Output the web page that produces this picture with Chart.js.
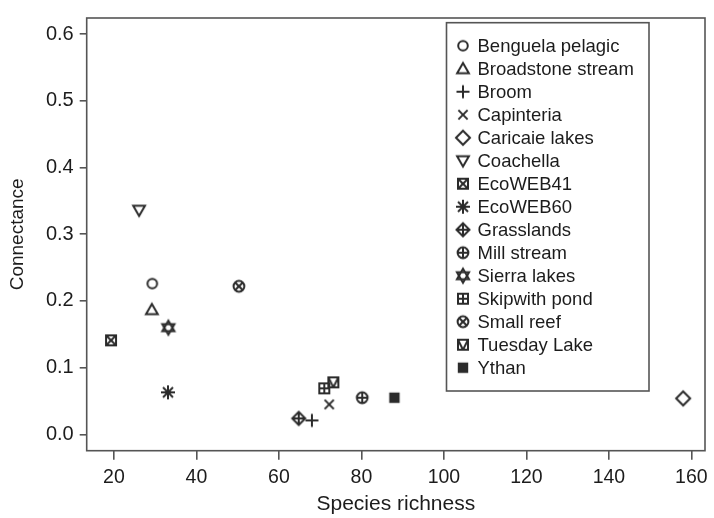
<!DOCTYPE html>
<html>
<head>
<meta charset="utf-8">
<script src="https://cdn.jsdelivr.net/npm/chart.js@4/dist/chart.umd.min.js"></script>
<style>
  body { margin: 0; background: #fff; }
  #wrap { width: 714px; height: 518px; }
</style>
</head>
<body>
<div id="wrap"><canvas id="chart" width="714" height="518"></canvas></div>
<script>
const networks = [
    'Benguela pelagic', 'Broadstone stream', 'Broom', 'Capinteria', 'Caricaie lakes',
    'Coachella', 'EcoWEB41', 'EcoWEB60', 'Grasslands', 'Mill stream',
    'Sierra lakes', 'Skipwith pond', 'Small reef', 'Tuesday Lake', 'Ythan'
];
const speciesRichness = [29.3, 29.2, 68.0, 72.2, 158.0, 26.1, 19.3, 33.1, 64.8, 80.2, 33.2, 71.0, 50.3, 73.2, 88.0];
const connectance = [0.226, 0.187, 0.021, 0.045, 0.054, 0.336, 0.141, 0.063, 0.024, 0.055, 0.160, 0.069, 0.222, 0.078, 0.055];
const markerShapes = [
    'circle', 'triUp', 'plus', 'cross', 'diamond',
    'triDown', 'squareX', 'asterisk', 'diamondPlus', 'circlePlus',
    'star', 'squarePlus', 'circleX', 'squareTri', 'squareFill'
];
const xTicks = [20, 40, 60, 80, 100, 120, 140, 160];
const yTicks = [0.0, 0.1, 0.2, 0.3, 0.4, 0.5, 0.6];

const INK = '#2b2b2b';
const AXIS = '#555';
const TEXT = '#1c1c1c';
const FONT = '"Liberation Sans", Arial, Helvetica, sans-serif';

// little canvases used as point styles (plot and legend)
function makeMarker(shape) {
    const c = document.createElement('canvas');
    c.width = 20;
    c.height = 20;
    const g = c.getContext('2d');
    g.strokeStyle = INK;
    g.fillStyle = INK;
    g.lineWidth = 2;
    g.translate(10, 10);

    const line = (x1, y1, x2, y2) => { g.beginPath(); g.moveTo(x1, y1); g.lineTo(x2, y2); g.stroke(); };
    const poly = pts => {
        g.beginPath();
        pts.forEach((p, i) => i ? g.lineTo(p[0], p[1]) : g.moveTo(p[0], p[1]));
        g.closePath();
        g.stroke();
    };
    const circle = r => { g.beginPath(); g.arc(0, 0, r, 0, Math.PI * 2); g.stroke(); };
    const tri = (r, dir) => poly([[0, -r * dir], [r * 0.866, r * 0.5 * dir], [-r * 0.866, r * 0.5 * dir]]);

    switch (shape) {
        case 'circle': circle(4.8); break;
        case 'triUp': g.translate(0, 1); tri(6.8, 1); break;
        case 'triDown': g.translate(0, -1); tri(6.8, -1); break;
        case 'plus': line(-6.5, 0, 6.5, 0); line(0, -6.5, 0, 6.5); break;
        case 'cross': line(-4.6, -4.6, 4.6, 4.6); line(-4.6, 4.6, 4.6, -4.6); break;
        case 'diamond': poly([[0, -7], [7, 0], [0, 7], [-7, 0]]); break;
        case 'squareX':
            g.strokeRect(-5, -5, 10, 10);
            line(-5, -5, 5, 5); line(-5, 5, 5, -5);
            break;
        case 'asterisk':
            line(-7, 0, 7, 0); line(0, -7, 0, 7);
            line(-5, -5, 5, 5); line(-5, 5, 5, -5);
            break;
        case 'diamondPlus':
            poly([[0, -6.5], [6.5, 0], [0, 6.5], [-6.5, 0]]);
            line(-6.5, 0, 6.5, 0); line(0, -6.5, 0, 6.5);
            break;
        case 'circlePlus':
            circle(5.4);
            line(-5.4, 0, 5.4, 0); line(0, -5.4, 0, 5.4);
            break;
        case 'star': tri(7, 1); tri(7, -1); break;
        case 'squarePlus':
            g.strokeRect(-5, -5, 10, 10);
            line(-5, 0, 5, 0); line(0, -5, 0, 5);
            break;
        case 'circleX':
            circle(5.4);
            line(-3.8, -3.8, 3.8, 3.8); line(-3.8, 3.8, 3.8, -3.8);
            break;
        case 'squareTri':
            g.strokeRect(-5, -5, 10, 10);
            line(-5, -5, 0, 5); line(0, 5, 5, -5);
            break;
        case 'squareFill': g.fillRect(-5.2, -5.2, 10.4, 10.4); break;
    }
    return c;
}

const markers = markerShapes.map(makeMarker);

const datasets = networks.map((name, i) => ({
    label: name,
    data: [{ x: speciesRichness[i], y: connectance[i] }],
    pointStyle: markers[i],
    pointRadius: 8,
    showLine: false
}));

// full box around the plot area, like base R graphics
const framePlugin = {
    id: 'frame',
    afterDraw(chart) {
        const { ctx, chartArea: a } = chart;
        ctx.save();
        ctx.strokeStyle = AXIS;
        ctx.lineWidth = 1.6;
        ctx.strokeRect(a.left, a.top, a.right - a.left, a.bottom - a.top);
        ctx.restore();
    }
};

// legend box drawn inside the plot, top right
const boxLegend = {
    id: 'boxLegend',
    afterDraw(chart, args, opts) {
        const { ctx } = chart;
        ctx.save();
        ctx.strokeStyle = AXIS;
        ctx.lineWidth = 1.6;
        ctx.strokeRect(opts.x, opts.y, opts.w, opts.h);
        ctx.font = '18.5px ' + FONT;
        ctx.fillStyle = TEXT;
        ctx.textBaseline = 'middle';
        chart.data.datasets.forEach((ds, i) => {
            const y = opts.firstRow + i * opts.rowGap;
            ctx.drawImage(ds.pointStyle, opts.markerX - 10, y - 10);
            ctx.fillText(ds.label, opts.textX, y + 1);
        });
        ctx.restore();
    }
};

new Chart(document.getElementById('chart'), {
    type: 'scatter',
    data: { datasets: datasets },
    plugins: [framePlugin, boxLegend],
    options: {
        responsive: false,
        animation: false,
        events: [],
        layout: { padding: { top: 6, right: 4.7, left: 0, bottom: 0 } },
        plugins: {
            legend: { display: false },
            tooltip: { enabled: false },
            boxLegend: { x: 446.5, y: 22.7, w: 202.5, h: 368.3, markerX: 463, textX: 477.5, firstRow: 45.7, rowGap: 23 }
        },
        scales: {
            x: {
                type: 'linear',
                min: 13.4,
                max: 163.3,
                afterBuildTicks: scale => { scale.ticks = xTicks.map(v => ({ value: v })); },
                afterFit: scale => { scale.height = 67.3; },
                border: { display: false },
                grid: { display: true, drawOnChartArea: false, drawTicks: true, tickLength: 9, color: AXIS, lineWidth: 1.6 },
                ticks: {
                    color: TEXT,
                    padding: 6,
                    maxRotation: 0,
                    font: { family: FONT, size: 19.5 },
                    callback: v => String(v)
                },
                title: {
                    display: true,
                    text: 'Species richness',
                    color: TEXT,
                    font: { family: FONT, size: 21 },
                    padding: { top: 0, bottom: 1 }
                }
            },
            y: {
                type: 'linear',
                min: -0.0244,
                max: 0.624,
                afterBuildTicks: scale => { scale.ticks = yTicks.map(v => ({ value: v })); },
                afterFit: scale => { scale.width = 86.7; },
                border: { display: false },
                grid: { display: true, drawOnChartArea: false, drawTicks: true, tickLength: 7, color: AXIS, lineWidth: 1.6 },
                ticks: {
                    color: TEXT,
                    padding: 6,
                    font: { family: FONT, size: 20 },
                    callback: v => v.toFixed(1)
                },
                title: {
                    display: true,
                    text: 'Connectance',
                    color: TEXT,
                    font: { family: FONT, size: 19 },
                    padding: { top: 6, bottom: 0 }
                }
            }
        }
    }
});
</script>
</body>
</html>
